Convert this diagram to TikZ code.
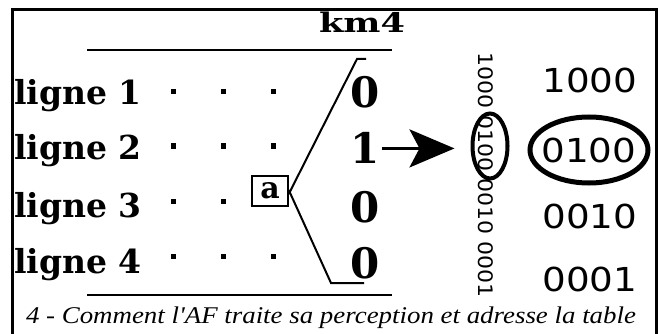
\documentclass[tikz,border=0pt]{standalone}
\usepackage{fontspec}
\usepackage{graphicx}
\setmainfont{DejaVu Serif}
\newfontfamily\capfont{Liberation Serif}
\newfontfamily\digfont{DejaVu Sans}
\usetikzlibrary{arrows.meta,shapes.geometric}
\tikzset{
  lbl/.style={anchor=base west,inner sep=0pt,font=\fontsize{33}{33}\selectfont\bfseries},
  bit/.style={anchor=base,inner sep=0pt,font=\fontsize{42}{42}\selectfont\bfseries},
  code/.style={inner sep=0pt,font=\digfont\fontsize{33}{33}\selectfont},
  dotsq/.style={fill=black,minimum size=5pt,inner sep=0pt},
  ring/.style={draw,ellipse,inner sep=0pt},
}
\begin{document}
\begin{tikzpicture}[x=1pt,y=-1pt]
\useasboundingbox (0,0) rectangle (661,334);
\draw[line width=3pt] (12,340) -- (12,9.5) -- (656,9.5) -- (656,340);
% title and rules
\node[anchor=base,inner sep=0pt,font=\fontsize{27}{27}\selectfont\bfseries] (km) at (362,33) {\scalebox{1.3}[1]{km4}};
\coordinate (t1) at (87,50); \coordinate (t2) at (392,50);
\coordinate (b1) at (87,295); \coordinate (b2) at (392,295);
\draw[line width=2.2pt] (t1) -- (t2);
\draw[line width=2.2pt] (b1) -- (b2);
% rows
\node[lbl] (l1) at (14,105) {ligne 1};
\node[lbl] (l2) at (14,160) {ligne 2};
\node[lbl] (l3) at (14,217) {ligne 3};
\node[lbl] (l4) at (14,273) {ligne 4};
\foreach \y/\n in {92/1,146/2,256/4}{
  \node[dotsq] (d\n a) at (173,\y) {};
  \node[dotsq] (d\n b) at (223,\y) {};
  \node[dotsq] (d\n c) at (273,\y) {};
}
\node[dotsq] (d3a) at (173,201) {};
\node[dotsq] (d3b) at (223,201) {};
\node[draw,line width=1.5pt,minimum width=36pt,minimum height=30pt,inner sep=0pt,font=\fontsize{30}{30}\selectfont\bfseries] (a) at (270,191) {a};
% bracket
\coordinate (u0) at (366,59); \coordinate (u1) at (357,59);
\coordinate (w0) at (331,283); \coordinate (w1) at (364,283);
\draw[line width=2pt] (u0) -- (u1) -- ([yshift=-3pt]a.east);
\draw[line width=2pt] ([yshift=1pt]a.east) -- (w0) -- (w1);
% bits
\node[bit] (z1) at (365,108) {0};
\node[bit] (one) at (365,164) {1};
\node[bit] (z3) at (365,222) {0};
\node[bit] (z4) at (365,278) {0};
% vertical code
\node[rotate=-90,inner sep=0pt,font=\digfont\fontsize{20}{20}\selectfont] (vert) at (486,175) {\scalebox{1.1}[1]{1000 0100 0010 0001}};
\node[ring,line width=4pt,minimum width=35pt,minimum height=65pt] (vel) at (490,146) {};
\coordinate (as) at ([xshift=2pt]one.east);
\draw[line width=3pt,-{Stealth[length=45pt,width=38pt,inset=10pt]},shorten >=16pt] (as) -- (as -| vel.west);
% right column
\node[code] (c1) at (590,80) {\scalebox{1.13}[1]{1000}};
\node[code] (c2) at (589,150) {\scalebox{1.13}[1]{0100}};
\node[code] (c3) at (590,216) {\scalebox{1.13}[1]{0010}};
\node[code] (c4) at (590,279) {\scalebox{1.13}[1]{0001}};
\node[ring,line width=5pt,minimum width=118pt,minimum height=66pt] (rel) at (589,150) {};
% caption
\node[anchor=base,inner sep=0pt,font=\capfont\itshape\fontsize{24}{24}\selectfont] (cap) at (331,323) {\scalebox{1.12}[1]{4 - Comment l'AF traite sa perception et adresse la table}};
\end{tikzpicture}
\end{document}
